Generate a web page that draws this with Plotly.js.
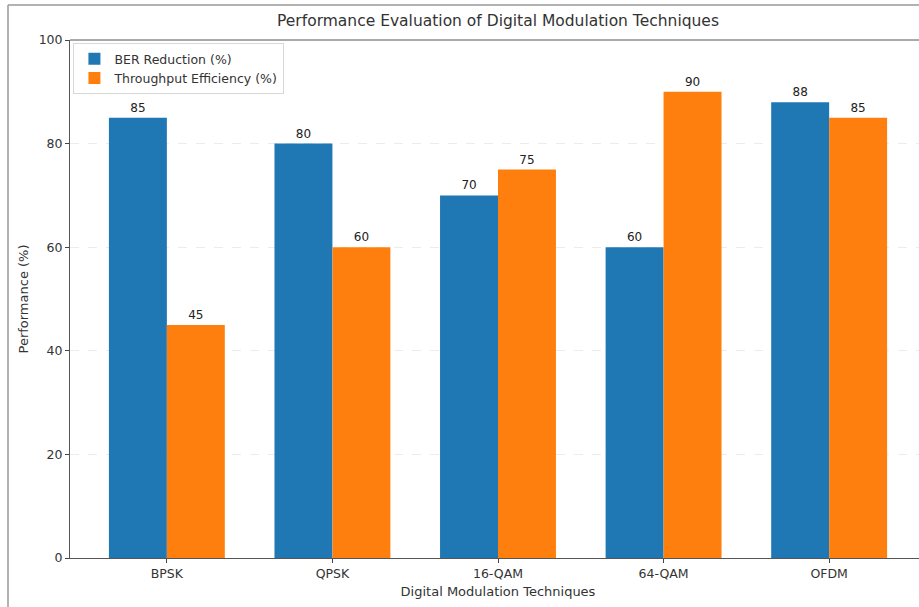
<!DOCTYPE html>
<html>
<head>
<meta charset="utf-8">
<script src="https://cdn.plot.ly/plotly-3.0.1.min.js"></script>
<style>
html,body{margin:0;padding:0;overflow:hidden;background:#fff;width:919px;height:607px;}
#chart{width:930px;height:607px;}
</style>
</head>
<body>
<div id="chart"></div>
<script>
const techniques = ["BPSK", "QPSK", "16-QAM", "64-QAM", "OFDM"];
const berReduction = [85, 80, 70, 60, 88];
const throughputEfficiency = [45, 60, 75, 90, 85];
const yTicks = [0, 20, 40, 60, 80, 100];

const idx = techniques.map((_, i) => i);
const barW = 0.35;

const font = "DejaVu Sans, sans-serif";

const traces = [
  {
    type: "bar",
    name: "BER Reduction (%)",
    x: idx.map(i => i - barW / 2),
    y: berReduction,
    width: barW,
    marker: {color: "#1f77b4"},
    text: berReduction.map(String),
    textposition: "outside",
    textfont: {family: font, size: 12, color: "#222"},
    cliponaxis: false
  },
  {
    type: "bar",
    name: "Throughput Efficiency (%)",
    x: idx.map(i => i + barW / 2),
    y: throughputEfficiency,
    width: barW,
    marker: {color: "#ff7f0e"},
    text: throughputEfficiency.map(String),
    textposition: "outside",
    textfont: {family: font, size: 12, color: "#222"},
    cliponaxis: false
  }
];

const layout = {
  width: 930,
  height: 607,
  margin: {l: 70, r: 4, t: 40, b: 49},
  paper_bgcolor: "#fff",
  plot_bgcolor: "#fff",
  font: {family: font, size: 12, color: "#333"},
  barmode: "overlay",
  title: {
    text: "Performance Evaluation of Digital Modulation Techniques",
    font: {family: font, size: 15.5, color: "#333"},
    x: 0.5, xref: "paper", xanchor: "center",
    y: 1 - 21 / 607, yanchor: "middle"
  },
  xaxis: {
    range: [-0.585, 4.585],
    tickmode: "array",
    tickvals: idx,
    ticktext: techniques,
    ticks: "outside",
    ticklen: 4,
    tickcolor: "#444",
    showline: true,
    linecolor: "#555",
    mirror: false,
    showgrid: false,
    zeroline: false,
    tickfont: {family: font, size: 12.5, color: "#333"},
    title: {text: "Digital Modulation Techniques", font: {family: font, size: 13, color: "#333"}, standoff: 6}
  },
  yaxis: {
    range: [0, 100],
    tickmode: "array",
    tickvals: yTicks,
    ticktext: yTicks.map(String),
    ticks: "outside",
    ticklen: 4,
    tickcolor: "#444",
    showline: true,
    linecolor: "#555",
    showgrid: true,
    gridcolor: "#ececec",
    griddash: "dash",
    gridwidth: 1,
    zeroline: false,
    tickfont: {family: font, size: 12.5, color: "#333"},
    title: {text: "Performance (%)", font: {family: font, size: 13, color: "#333"}, standoff: 7}
  },
  legend: {
    x: 0.004, y: 0.994, xanchor: "left", yanchor: "top",
    bgcolor: "rgba(255,255,255,0.85)",
    bordercolor: "#d8d8d8",
    borderwidth: 1,
    font: {family: font, size: 12.5, color: "#333"},
    tracegroupgap: 0
  },
  shapes: [
    {type: "line", xref: "paper", yref: "paper", x0: -62/856, x1: -62/856, y0: 1 + 35/518, y1: -49/518 - 0.01, line: {color: "#999", width: 1.5}},
    {type: "line", xref: "paper", yref: "paper", x0: -62/856, x1: 1.01, y0: 1 + 35/518, y1: 1 + 35/518, line: {color: "#999", width: 1.5}},
    {type: "line", xref: "paper", yref: "paper", x0: 0, x1: 1, y0: 1, y1: 1, line: {color: "#555", width: 1}}
  ],
  showlegend: true
};

Plotly.newPlot("chart", traces, layout, {displayModeBar: false, staticPlot: true});
</script>
</body>
</html>
